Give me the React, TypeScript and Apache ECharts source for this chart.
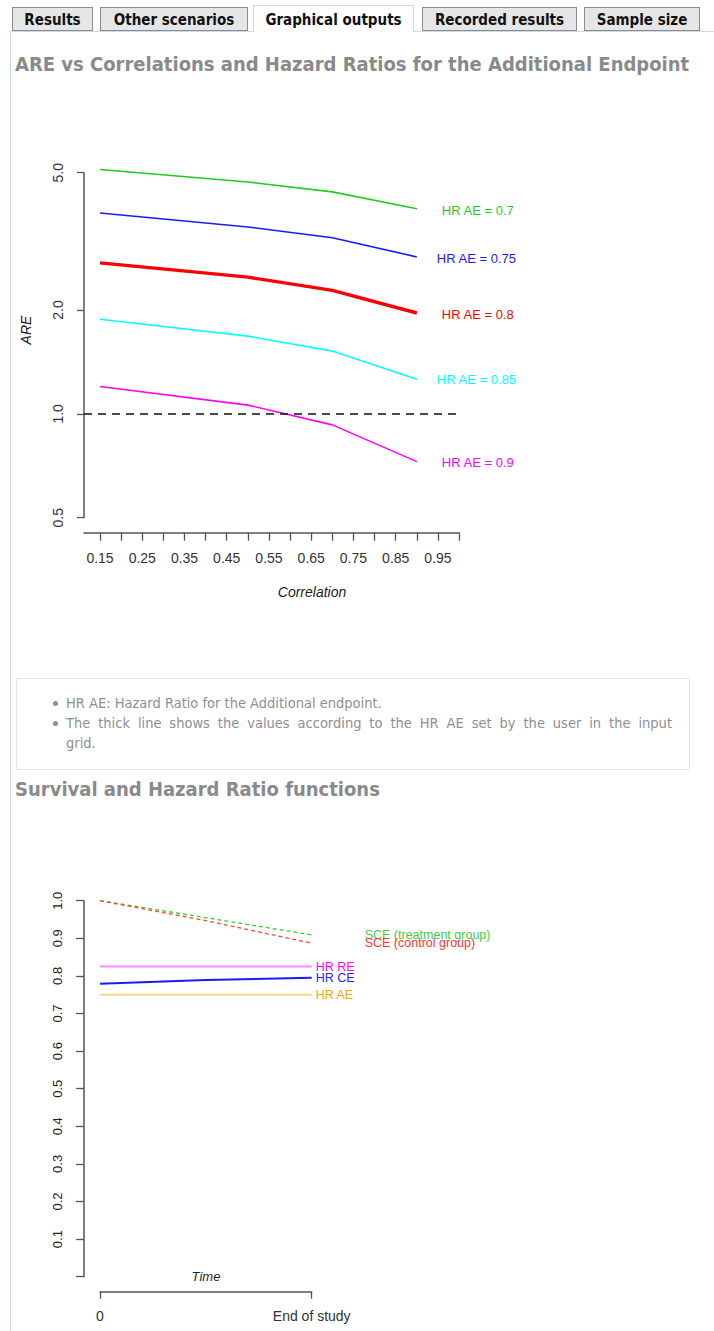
import React, { useEffect, useRef } from "react";
import * as echarts from "echarts";

// ---------- Data: ARE vs correlation ----------
const correlations = [0.15, 0.5, 0.7, 0.9];
const hrAeNames = ["HR AE = 0.7", "HR AE = 0.75", "HR AE = 0.8", "HR AE = 0.85", "HR AE = 0.9"];
const areHr070 = [5.11, 4.7, 4.4, 3.93];
const areHr075 = [3.82, 3.48, 3.24, 2.85];
const areHr080 = [2.74, 2.49, 2.28, 1.96];
const areHr085 = [1.88, 1.68, 1.52, 1.26];
const areHr090 = [1.2, 1.06, 0.929, 0.727];
const corrTicks = [0.15, 0.2, 0.25, 0.3, 0.35, 0.4, 0.45, 0.5, 0.55, 0.6, 0.65, 0.7, 0.75, 0.8, 0.85, 0.9, 0.95, 1.0];
const corrTickLabels = [0.15, 0.25, 0.35, 0.45, 0.55, 0.65, 0.75, 0.85, 0.95];
const areTicks = [0.5, 1, 2, 5];
const areReference = 1;

// ---------- Data: survival and hazard ratio functions ----------
const timePoints = [0, 0.5, 1];
const timeTickLabels = ["0", "End of study"];
const sceTreatment = [1.0, 0.955, 0.909];
const sceControl = [1.0, 0.947, 0.887];
const hrRE = [0.825, 0.825, 0.825];
const hrCE = [0.779, 0.789, 0.795];
const hrAE = [0.75, 0.75, 0.75];

const tabs = [
  { label: "Results", left: 12, width: 81 },
  { label: "Other scenarios", left: 100, width: 148 },
  { label: "Graphical outputs", left: 253, width: 161, active: true },
  { label: "Recorded results", left: 422, width: 155 },
  { label: "Sample size", left: 584, width: 116 },
];

const RF = "'Liberation Sans', Arial, Helvetica, sans-serif";
const PF = "'DejaVu Sans Condensed', 'DejaVu Sans', sans-serif";

function zip(xs: number[], ys: number[]) {
  return xs.map((x, i) => [x, ys[i]]);
}

export default function App() {
  const ref = useRef<HTMLDivElement>(null);

  useEffect(() => {
    if (!ref.current) return;
    const chart = echarts.init(ref.current, undefined, { renderer: "svg" });

    const aeSeries = [
      { vals: areHr070, color: "#1fcd1f", width: 1.6, dist: 25, dy: 2 },
      { vals: areHr075, color: "#1a1aff", width: 1.6, dist: 20, dy: 1.5 },
      { vals: areHr080, color: "#ff0000", width: 3.4, dist: 25, dy: 1 },
      { vals: areHr085, color: "#00ffff", width: 1.6, dist: 20, dy: 0 },
      { vals: areHr090, color: "#ff00ff", width: 1.6, dist: 25, dy: 0.5 },
    ].map((s, i) => ({
      type: "line",
      name: hrAeNames[i],
      xAxisIndex: 0,
      yAxisIndex: 0,
      data: zip(correlations, s.vals),
      symbol: "none",
      clip: false,
      lineStyle: { color: s.color, width: s.width },
      endLabel: {
        show: true,
        formatter: hrAeNames[i],
        color: s.color,
        fontSize: 13,
        fontFamily: RF,
        distance: s.dist,
        offset: [0, s.dy],
      },
      markLine:
        i === 4
          ? {
              silent: true,
              symbol: "none",
              label: { show: false },
              lineStyle: { color: "#111", width: 1.7, type: [8, 6] },
              data: [{ yAxis: areReference }],
            }
          : undefined,
    }));

    const survSeries = [
      { vals: sceTreatment, color: "#33cc33", text: "#44cc44", width: 1.3, dash: true, name: "SCE (treatment group)", dist: 53 },
      { vals: sceControl, color: "#ff4444", text: "#ff3333", width: 1.3, dash: true, name: "SCE (control group)", dist: 53 },
      { vals: hrRE, color: "#ff88ff", text: "#ff00ff", width: 2, dash: false, name: "HR RE", dist: 4 },
      { vals: hrCE, color: "#1a1aff", text: "#2222ff", width: 2, dash: false, name: "HR CE", dist: 4 },
      { vals: hrAE, color: "#ffd27f", text: "#ffa500", width: 2, dash: false, name: "HR AE", dist: 4 },
    ].map((s) => ({
      type: "line",
      name: s.name,
      xAxisIndex: 1,
      yAxisIndex: 1,
      data: zip(timePoints, s.vals),
      symbol: "none",
      clip: false,
      lineStyle: { color: s.color, width: s.width, type: s.dash ? [4, 3] : "solid" },
      endLabel: {
        show: true,
        formatter: s.name,
        color: s.text,
        fontSize: 12.5,
        fontFamily: RF,
        distance: s.dist,
      },
    }));

    const axisLine = { show: true, onZero: false, lineStyle: { color: "#555", width: 1.5 } };
    const tickStyle = { color: "#555", width: 1.3 };

    chart.setOption({
      animation: false,
      grid: [
        { left: 84, top: 172.7, width: 375.1, height: 345 },
        { left: 100, top: 900.7, width: 211.7, height: 376 },
      ],
      xAxis: [
        {
          gridIndex: 0,
          type: "value",
          min: 0.1121,
          max: 1.0,
          offset: 15,
          axisLine,
          axisTick: { show: true, length: 8, customValues: corrTicks, lineStyle: tickStyle },
          axisLabel: {
            customValues: corrTickLabels,
            formatter: (v: number) => v.toFixed(2),
            margin: 18,
            fontSize: 14,
            color: "#333",
            fontFamily: RF,
          },
          splitLine: { show: false },
        },
        {
          gridIndex: 1,
          type: "value",
          min: 0,
          max: 1,
          offset: 15,
          axisLine,
          axisTick: { show: true, length: 7, customValues: [0, 1], lineStyle: tickStyle },
          axisLabel: {
            customValues: [0, 1],
            formatter: (v: number) => (v === 0 ? timeTickLabels[0] : timeTickLabels[1]),
            margin: 17,
            fontSize: 14,
            color: "#333",
            fontFamily: RF,
          },
          splitLine: { show: false },
        },
      ],
      yAxis: [
        {
          gridIndex: 0,
          type: "log",
          min: 0.5,
          max: 5,
          axisLine,
          axisTick: { show: true, length: 7, customValues: areTicks, lineStyle: tickStyle },
          axisLabel: {
            customValues: areTicks,
            rotate: 90,
            formatter: (v: number) => v.toFixed(1),
            margin: 19,
            fontSize: 14,
            color: "#333",
            fontFamily: RF,
          },
          splitLine: { show: false },
        },
        {
          gridIndex: 1,
          type: "value",
          min: 0,
          max: 1,
          interval: 0.1,
          offset: 16,
          axisLine,
          axisTick: { show: true, length: 8, lineStyle: tickStyle },
          axisLabel: {
            rotate: 90,
            formatter: (v: number) => (v === 0 ? "" : v.toFixed(1)),
            margin: 20,
            fontSize: 13,
            color: "#222",
            fontFamily: RF,
          },
          splitLine: { show: false },
        },
      ],
      graphic: [
        {
          type: "text",
          x: 26,
          y: 330,
          rotation: Math.PI / 2,
          style: { text: "ARE", font: `italic 14px ${RF}`, fill: "#222", align: "center", verticalAlign: "middle" },
        },
        {
          type: "text",
          x: 312,
          y: 592,
          style: { text: "Correlation", font: `italic 14px ${RF}`, fill: "#222", align: "center", verticalAlign: "middle" },
        },
        {
          type: "text",
          x: 206,
          y: 1276,
          style: { text: "Time", font: `italic 13px ${RF}`, fill: "#222", align: "center", verticalAlign: "middle" },
        },
      ],
      series: [...aeSeries, ...survSeries],
    });
    return () => chart.dispose();
  }, []);

  const headingStyle: React.CSSProperties = {
    position: "absolute",
    left: 15,
    fontFamily: PF,
    fontWeight: "bold",
    fontSize: 20,
    lineHeight: "20px",
    color: "#8a8a8a",
    whiteSpace: "nowrap",
  };
  const infoLine: React.CSSProperties = {
    position: "absolute",
    left: 66,
    fontFamily: PF,
    fontSize: 14.5,
    lineHeight: "20px",
    color: "#8f8f8f",
    whiteSpace: "nowrap",
  };
  const bullet: React.CSSProperties = {
    position: "absolute",
    left: 53,
    width: 5,
    height: 5,
    borderRadius: 3,
    background: "#8f8f8f",
  };

  return (
    <div style={{ position: "absolute", left: 0, top: 0, width: 714, height: 1331, background: "#fff", overflow: "hidden" }}>
      <div
        style={{
          position: "absolute",
          left: 10,
          top: 31,
          width: 710,
          height: 1310,
          borderLeft: "1px solid #c6daf0",
          borderTop: "1px solid #c6daf0",
        }}
      />
      {tabs.map((t) =>
        t.active ? (
          <div
            key={t.label}
            style={{
              position: "absolute",
              left: t.left,
              top: 5,
              width: t.width,
              height: 27,
              boxSizing: "border-box",
              background: "#fff",
              border: "1px solid #d8d8d8",
              borderBottom: "none",
              fontFamily: PF,
              fontWeight: "bold",
              fontSize: 15,
              lineHeight: "29px",
              textAlign: "center",
              color: "#111",
            }}
          >
            {t.label}
          </div>
        ) : (
          <div
            key={t.label}
            style={{
              position: "absolute",
              left: t.left,
              top: 7,
              width: t.width,
              height: 24,
              boxSizing: "border-box",
              background: "#e6e6e6",
              border: "1px solid #8c8c8c",
              fontFamily: PF,
              fontWeight: "bold",
              fontSize: 15,
              lineHeight: "24px",
              textAlign: "center",
              color: "#111",
            }}
          >
            {t.label}
          </div>
        )
      )}
      <div style={{ ...headingStyle, top: 54 }}>ARE vs Correlations and Hazard Ratios for the Additional Endpoint</div>
      <div
        style={{
          position: "absolute",
          left: 16,
          top: 678,
          width: 674,
          height: 92,
          boxSizing: "border-box",
          border: "1px solid #e2e2e2",
          background: "#fff",
        }}
      />
      <div style={{ ...bullet, top: 701 }} />
      <div style={{ ...infoLine, top: 693 }}>HR AE: Hazard Ratio for the Additional endpoint.</div>
      <div style={{ ...bullet, top: 721 }} />
      <div
        style={{
          ...infoLine,
          top: 713,
          width: 606,
          whiteSpace: "normal",
          textAlign: "justify",
          textAlignLast: "justify",
        }}
      >
        The thick line shows the values according to the HR AE set by the user in the input
      </div>
      <div style={{ ...infoLine, top: 733 }}>grid.</div>
      <div style={{ ...headingStyle, top: 779 }}>Survival and Hazard Ratio functions</div>
      <div ref={ref} style={{ position: "absolute", left: 0, top: 0, width: 714, height: 1331 }} />
    </div>
  );
}
